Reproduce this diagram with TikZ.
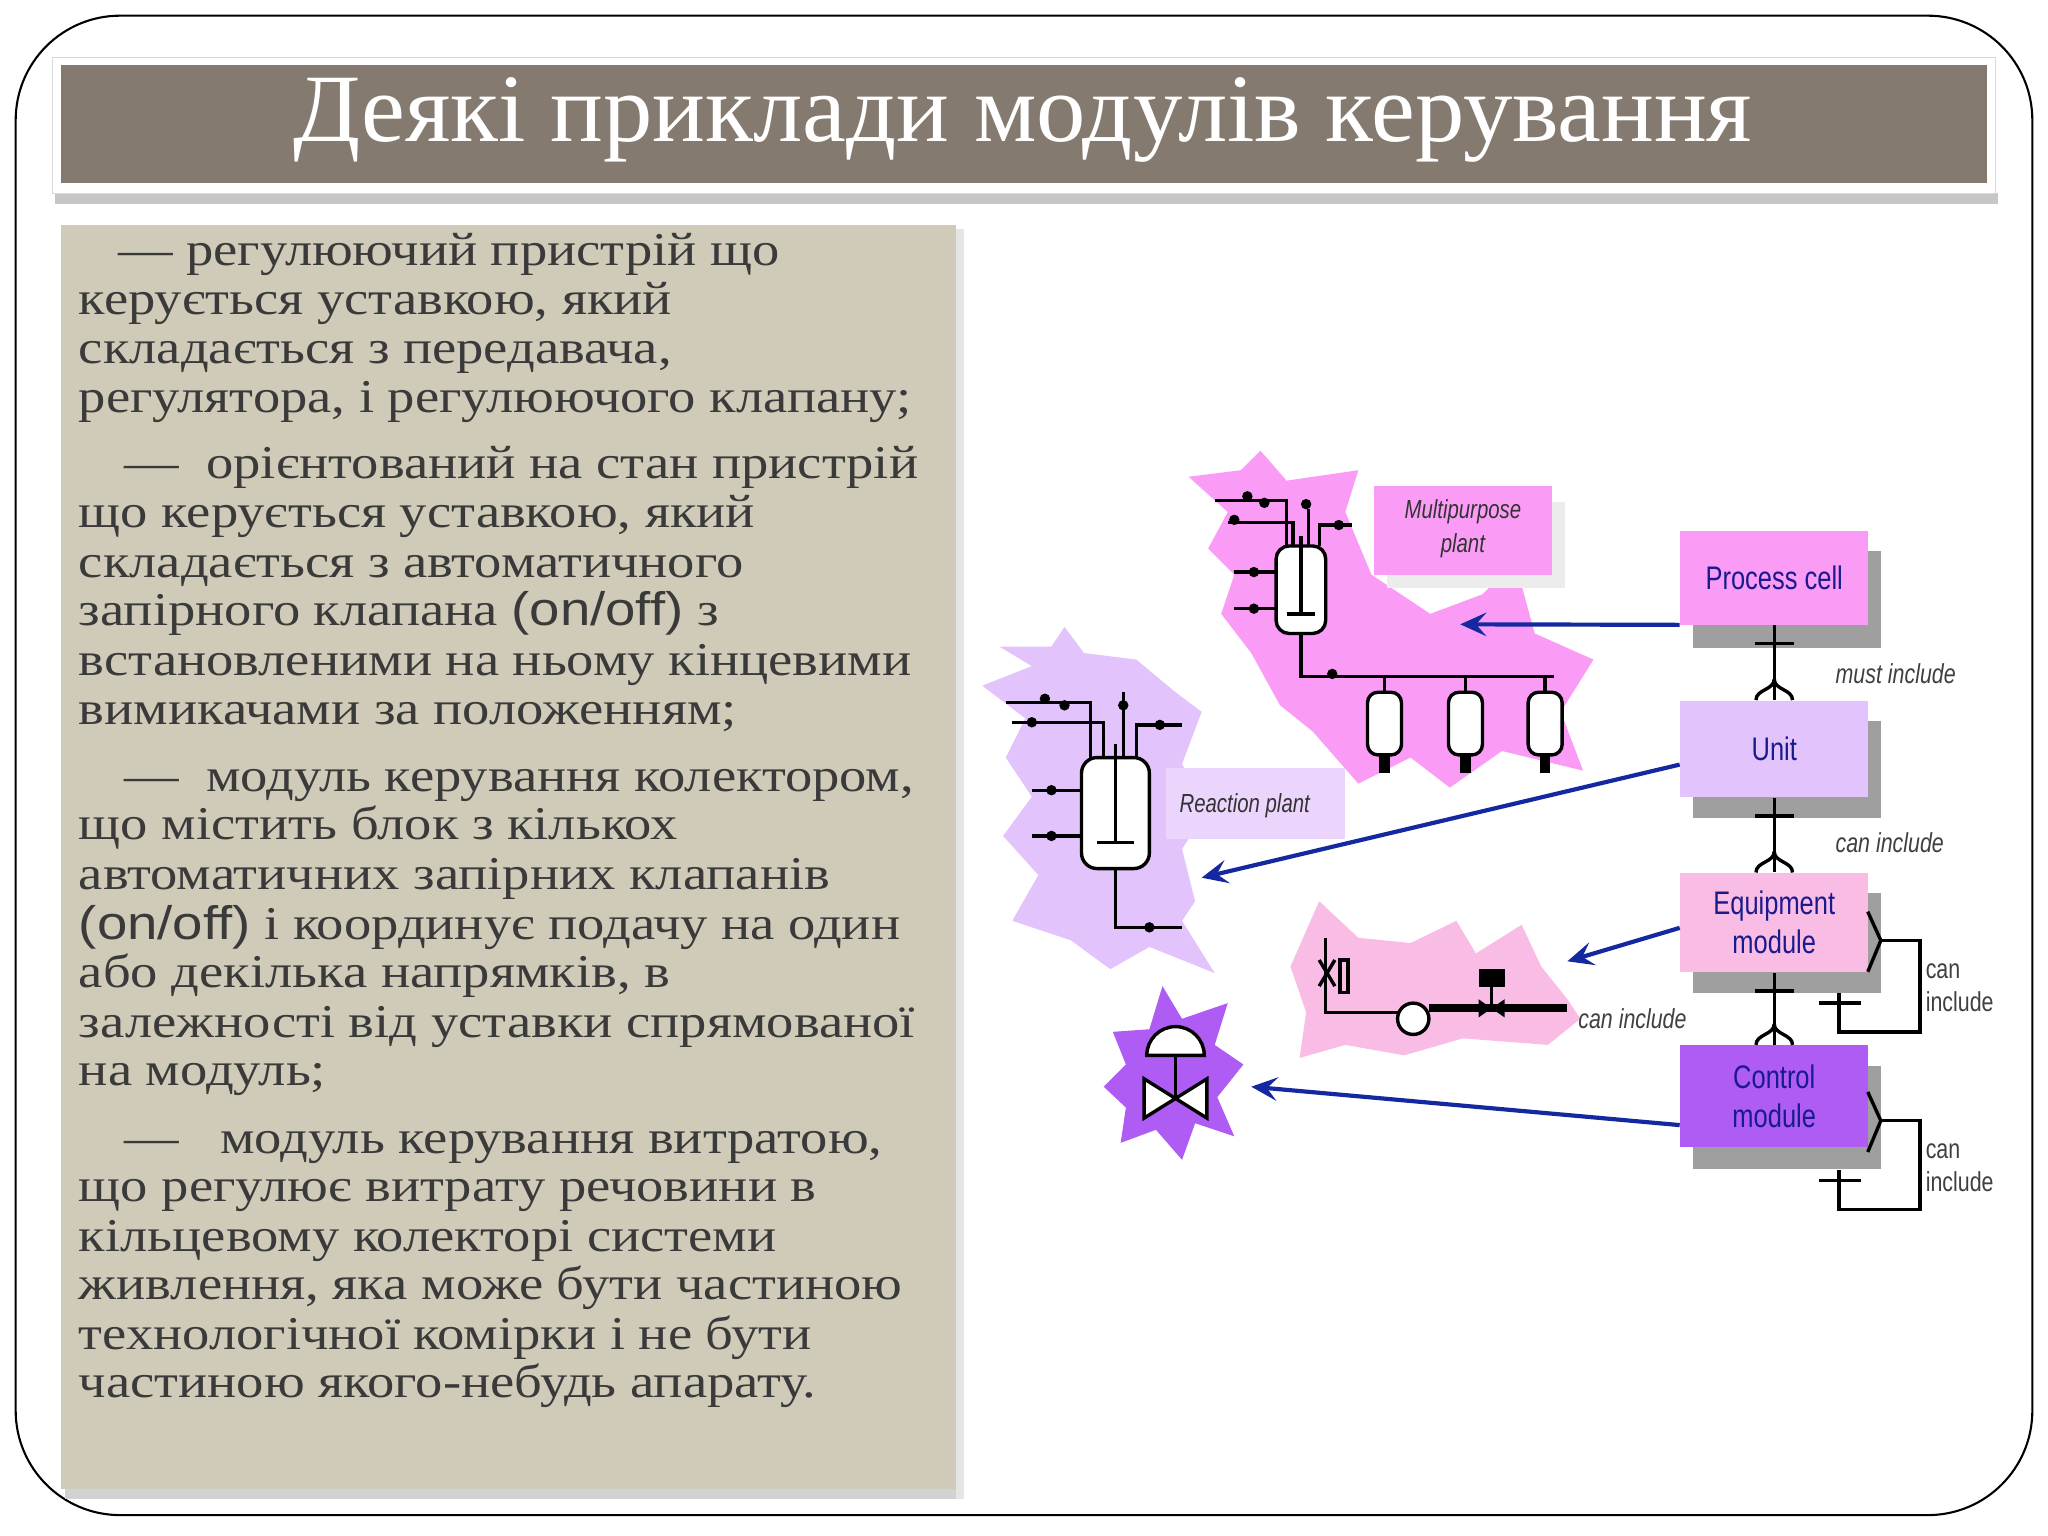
\documentclass[tikz,border=0pt]{standalone}
\usepackage{fontspec}
\setmainfont{Liberation Serif}
\setsansfont{Liberation Sans}
\usetikzlibrary{arrows.meta,shadows}
\definecolor{titlebg}{HTML}{857A6F}
\definecolor{panelbg}{HTML}{CFCBB8}
\definecolor{bodytxt}{HTML}{3A3A3A}
\definecolor{cpink}{HTML}{FA9CF6}
\definecolor{clav}{HTML}{E3C3FB}
\definecolor{clpink}{HTML}{F9BDE5}
\definecolor{cpurp}{HTML}{AE5CF3}
\definecolor{navy}{HTML}{1A1A8C}
\definecolor{arrblue}{HTML}{1428A0}
\tikzset{
 bl/.style={anchor=base west,inner sep=0pt,text=bodytxt,font=\fontsize{18}{18}\selectfont},
 hbox/.style={draw=none,minimum width=72pt,anchor=north west,text=navy,align=center,font=\sffamily\fontsize{12.5}{15}\selectfont},
 shad/.style={fill=gray!75},
 conn/.style={line width=1.3pt,black},
 barrow/.style={arrblue,line width=1.6pt,-{Stealth[length=10pt,width=9pt,inset=4pt]}},
 lbl/.style={font=\sffamily\itshape\fontsize{10.5}{12}\selectfont,text=black!75,inner sep=0pt,anchor=west},
 pid/.style={black,line width=1.3pt},
}
\newcommand{\cond}[1]{\scalebox{0.78}[1]{#1}}
\newcommand{\wid}[1]{\scalebox{1.16}[1]{#1}}
\begin{document}
\begin{tikzpicture}[x=0.5pt,y=-0.5pt]
\useasboundingbox (0,0) rectangle (1568,1176);
\fill[white] (0,0) rectangle (1568,1176);
% outer frame
\draw[line width=0.8pt,rounded corners=40pt] (12,12) rectangle (1556,1160);
% title
\fill[gray!45] (42,148) rectangle (1530,156);
\fill[white,draw=gray!30] (40,44) rectangle (1528,148);
\fill[titlebg] (47,50) rectangle (1521,140);
\node[text=white,font=\fontsize{37}{38}\selectfont,inner sep=0pt] (title) at (783,92) {\scalebox{1.02}[1]{Деякі приклади модулів керування}};
% panel
\fill[gray!35] (50,1140) rectangle (738,1148);
\fill[gray!20] (732,175) rectangle (738,1148);
\fill[panelbg] (47,172) rectangle (732,1140);
\node[bl] (l1) at (90,203) {\wid{— регулюючий пристрій що}};
\node[bl] (l2) at (60,241) {\wid{керується уставкою, який}};
\node[bl] (l3) at (60,278) {\wid{складається з передавача,}};
\node[bl] (l4) at (60,316) {\wid{регулятора, і регулюючого клапану;}};
\node[bl] (l5) at (95,366) {\wid{—\ \ орієнтований на стан пристрій}};
\node[bl] (l6) at (60,404) {\wid{що керується уставкою, який}};
\node[bl] (l7) at (60,442) {\wid{складається з автоматичного}};
\node[bl] (l8) at (60,479) {\wid{запірного клапана {\sffamily(on/off)} з}};
\node[bl] (l9) at (60,517) {\wid{встановленими на ньому кінцевими}};
\node[bl] (l10) at (60,555) {\wid{вимикачами за положенням;}};
\node[bl] (l11) at (95,606) {\wid{—\ \ модуль керування колектором,}};
\node[bl] (l12) at (60,643) {\wid{що містить блок з кількох}};
\node[bl] (l13) at (60,681) {\wid{автоматичних запірних клапанів}};
\node[bl] (l14) at (60,719) {\wid{{\sffamily(on/off)} і координує подачу на один}};
\node[bl] (l15) at (60,756) {\wid{або декілька напрямків, в}};
\node[bl] (l16) at (60,794) {\wid{залежності від уставки спрямованої}};
\node[bl] (l17) at (60,831) {\wid{на модуль;}};
\node[bl] (l18) at (95,883) {\wid{—\ \ \ модуль керування витратою,}};
\node[bl] (l19) at (60,920) {\wid{що регулює витрату речовини в}};
\node[bl] (l20) at (60,958) {\wid{кільцевому колекторі системи}};
\node[bl] (l21) at (60,995) {\wid{живлення, яка може бути частиною}};
\node[bl] (l22) at (60,1033) {\wid{технологічної комірки і не бути}};
\node[bl] (l23) at (60,1070) {\wid{частиною якого-небудь апарату.}};
% ---- starbursts
\fill[cpink] (965,345) -- (985,368) -- (1040,360) -- (1030,392) -- (1050,440) -- (1095,470) -- (1135,455) -- (1160,430) -- (1175,485) -- (1220,505) -- (1195,545) -- (1212,590) -- (1150,575) -- (1110,603) -- (1080,580) -- (1040,600) -- (1005,560) -- (980,540) -- (958,500) -- (935,470) -- (945,440) -- (925,420) -- (940,392) -- (910,365) -- (950,360) -- cycle;
\fill[clav] (815,480) -- (830,500) -- (870,505) -- (900,530) -- (920,545) -- (905,585) -- (925,620) -- (905,650) -- (915,690) -- (905,705) -- (930,745) -- (880,725) -- (850,742) -- (820,720) -- (775,705) -- (795,670) -- (768,640) -- (790,610) -- (770,580) -- (785,550) -- (752,525) -- (790,510) -- (765,495) -- (805,495) -- cycle;
\fill[clpink] (1010,690) -- (1040,718) -- (1080,722) -- (1115,705) -- (1130,730) -- (1165,708) -- (1180,740) -- (1200,765) -- (1210,780) -- (1185,800) -- (1120,795) -- (1075,808) -- (1030,800) -- (995,810) -- (1000,775) -- (988,740) -- cycle;
\fill[cpurp] (890,755) -- (905,780) -- (940,768) -- (930,800) -- (952,815) -- (932,840) -- (945,870) -- (915,860) -- (905,888) -- (885,865) -- (858,875) -- (862,848) -- (845,832) -- (862,815) -- (852,790) -- (880,788) -- cycle;
% label boxes
\fill[gray!15] (1062,384) rectangle (1198,450);
\fill[cpink] (1052,372) rectangle (1188,440);
\node[font=\sffamily\itshape\fontsize{10}{13}\selectfont,align=center,text=black!80] (mpl) at (1120,405) {\cond{Multipurpose}\\\cond{plant}};
\fill[clav!70] (893,588) rectangle (1030,642);
\node[font=\sffamily\itshape\fontsize{10}{13}\selectfont,text=black!80] (rpl) at (953,617) {\cond{Reaction plant}};
% ---- P&ID multipurpose
\draw[pid,fill=white,rounded corners=5pt] (977,418) rectangle (1015,485);
\draw[pid] (996,410) -- (996,470) (985,470) -- (1007,470);
\draw[pid] (985,418) -- (985,383) -- (930,383) (990,418) -- (990,400) -- (940,400);
\draw[pid] (1002,418) -- (1002,390) (1010,418) -- (1010,402) -- (1035,402);
\draw[pid] (977,438) -- (945,438) (977,466) -- (945,466);
\foreach \p in {(955,380),(968,385),(945,398),(960,438),(960,466),(1000,386),(1025,402)} \fill \p circle (4);
\draw[pid] (996,485) -- (996,518) -- (1190,518);
\fill (1020,516) circle (4);
\foreach \tx in {1060,1122,1183}{
 \draw[pid] (\tx,518) -- (\tx,530);
 \draw[pid,fill=white,rounded corners=4pt] (\tx-13,530) rectangle (\tx+13,578);
 \fill (\tx-4,578) rectangle (\tx+4,592);
}
% ---- P&ID reaction
\draw[pid,fill=white,rounded corners=6pt] (828,580) rectangle (880,665);
\draw[pid] (854,570) -- (854,645) (840,645) -- (868,645);
\draw[pid] (835,580) -- (835,538) -- (770,538) (845,580) -- (845,553) -- (775,553);
\draw[pid] (860,580) -- (860,530) (870,580) -- (870,555) -- (905,555);
\draw[pid] (828,605) -- (790,605) (828,640) -- (790,640);
\foreach \p in {(800,535),(815,540),(790,553),(805,605),(805,640),(860,540),(888,555)} \fill \p circle (4);
\draw[pid] (854,665) -- (854,710) -- (905,710);
\fill (880,710) circle (4);
% ---- P&ID equipment
\draw[pid] (1015,718) -- (1015,775) -- (1070,775);
\draw[pid] (1010,735) -- (1022,755) (1010,755) -- (1022,735);
\draw[pid] (1026,735) rectangle (1032,760);
\draw[pid,fill=white] (1082,780) circle (12);
\draw[black,line width=3pt] (1094,772) -- (1200,772);
\draw[pid] (1142,772) -- (1142,755);
\fill (1132,742) rectangle (1152,756);
\fill (1132,765) -- (1152,779) -- (1152,765) -- (1132,779) -- cycle;
% ---- P&ID control valve
\draw[pid,fill=white] (878,808) arc (180:360:22) -- cycle;
\draw[pid] (900,808) -- (900,840);
\draw[pid,fill=white] (876,826) -- (924,856) -- (924,826) -- (876,856) -- cycle;
% ---- hierarchy boxes
\fill[shad] (1296,422) rectangle (1440,496);
\node[hbox,fill=cpink,minimum height=36pt] (pc) at (1286,406) {\cond{Process cell}};
\fill[shad] (1296,552) rectangle (1440,626);
\node[hbox,fill=clav,minimum height=37pt] (unit) at (1286,536) {\cond{Unit}};
\fill[shad] (1296,684) rectangle (1440,760);
\node[hbox,fill=clpink,minimum height=38pt] (em) at (1286,668) {\cond{Equipment}\\\cond{module}};
\fill[shad] (1296,816) rectangle (1440,895);
\node[hbox,fill=cpurp,minimum height=39pt] (cm) at (1286,800) {\cond{Control}\\\cond{module}};
% vertical connectors
\foreach \a/\b in {pc/unit,unit/em,em/cm}{
 \draw[conn] (\a.south) -- (\b.north);
 \draw[conn] ([yshift=-7pt]\a.south) ++(-15,0) -- ++(30,0);
 \draw[conn] ([yshift=8pt]\b.north) to[out=-90,in=90] ([xshift=-7pt]\b.north);
 \draw[conn] ([yshift=8pt]\b.north) to[out=-90,in=90] ([xshift=7pt]\b.north);
}
\node[lbl] (mi) at (1405,516) {\cond{must include}};
\node[lbl] (ci1) at (1405,645) {\cond{can include}};
% self loops
\draw[conn] (1430,698) -- (1440,720) -- (1430,744);
\draw[conn] (1440,720) -- (1470,720) -- (1470,790) -- (1408,790) -- (1408,760);
\draw[conn] (1393,768) -- (1425,768);
\draw[conn] (1430,836) -- (1440,858) -- (1430,882);
\draw[conn] (1440,858) -- (1470,858) -- (1470,926) -- (1408,926) -- (1408,896);
\draw[conn] (1393,904) -- (1425,904);
\node[lbl,font=\sffamily\fontsize{10.5}{12.5}\selectfont,align=left] (ci2) at (1474,756) {\cond{can}\\\cond{include}};
\node[lbl,font=\sffamily\fontsize{10.5}{12.5}\selectfont,align=left] (ci3) at (1474,894) {\cond{can}\\\cond{include}};
\node[lbl] (ci4) at (1208,780) {\cond{can include}};
% blue arrows
\coordinate (amp) at (1118,478);
\coordinate (arp) at (920,672);
\coordinate (aem) at (1200,736);
\coordinate (acm) at (958,832);
\draw[barrow] ([yshift=-18pt]pc.west) -- (amp);
\draw[barrow] ([yshift=-6pt]unit.west) -- (arp);
\draw[barrow] ([yshift=-2pt]em.west) -- (aem);
\draw[barrow] ([yshift=-11pt]cm.west) -- (acm);
\end{tikzpicture}
\end{document}
